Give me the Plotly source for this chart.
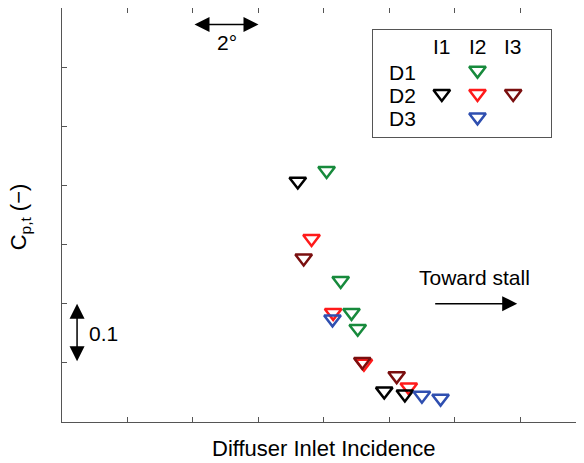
import plotly.graph_objects as go

# ---- data ----
designs = ["D1", "D2", "D3"]
incidences = ["I1", "I2", "I3"]

d1_i2_x = [8.08, 8.51, 8.84, 9.03]
d1_i2_y = [0.425, 0.239, 0.185, 0.158]

d2_i1_x = [7.20, 9.84, 10.47]
d2_i1_y = [0.407, 0.052, 0.047]

d2_i2_x = [7.62, 8.28, 9.22, 10.59]
d2_i2_y = [0.310, 0.185, 0.099, 0.059]

d2_i3_x = [7.38, 9.17, 10.22]
d2_i3_y = [0.277, 0.102, 0.078]

d3_i2_x = [8.26, 10.99, 11.56]
d3_i2_y = [0.174, 0.045, 0.040]

x_ticks = [0, 2, 4, 6, 8, 10, 12, 14, 16]
y_ticks = [0, 0.1, 0.2, 0.3, 0.4, 0.5, 0.6, 0.7]

# drawing order: red, dark red, green, black, blue
series = [
    ("D2", "I2", "#ff1a1a", d2_i2_x, d2_i2_y),
    ("D2", "I3", "#7a0f0f", d2_i3_x, d2_i3_y),
    ("D1", "I2", "#178a3c", d1_i2_x, d1_i2_y),
    ("D2", "I1", "#000000", d2_i1_x, d2_i1_y),
    ("D3", "I2", "#2f4fb0", d3_i2_x, d3_i2_y),
]

FONT = "Liberation Sans, Arial, Helvetica, sans-serif"
AX = "#555555"
MS = 14.5
LW = 2.5

fig = go.Figure()
for d, i, c, xs, ys in series:
    fig.add_trace(go.Scatter(
        x=xs, y=ys, mode="markers", showlegend=False,
        marker=dict(symbol="triangle-down-open", size=MS, color=c,
                    line=dict(width=LW, color=c)),
        cliponaxis=False))
    # legend grid entry (column = incidence, row = design)
    fig.add_trace(go.Scatter(
        x=[incidences.index(i) + 1], y=[designs.index(d) + 1],
        xaxis="x2", yaxis="y2", mode="markers", showlegend=False,
        marker=dict(symbol="triangle-down-open", size=MS, color=c,
                    line=dict(width=LW, color=c))))

axis_common = dict(showgrid=False, zeroline=False, ticks="inside", ticklen=5,
                   tickcolor=AX, tickwidth=1, showticklabels=False)

fig.update_layout(
    width=576, height=455,
    margin=dict(l=54, r=0, t=0, b=41),
    paper_bgcolor="white", plot_bgcolor="white",
    font=dict(family=FONT, size=21, color="black"),
    xaxis=dict(range=[0, 15.94], tickvals=x_ticks, showline=True,
               linecolor=AX, linewidth=1.3, **axis_common),
    yaxis=dict(range=[0, 0.7], tickvals=y_ticks, showline=True,
               linecolor=AX, linewidth=1.3, **axis_common),
    xaxis3=dict(range=[0, 15.94], tickvals=x_ticks, overlaying="x",
                side="top", anchor="y", showline=True, linecolor=AX,
                linewidth=1.3, **axis_common),
    yaxis3=dict(range=[0, 0.7], tickvals=y_ticks, overlaying="y",
                side="right", anchor="x", showline=False, **axis_common),
    xaxis2=dict(domain=[0.596, 0.937], anchor="y2", range=[-0.924, 4.062],
                showgrid=False, zeroline=False, showticklabels=False,
                ticks="", showline=True, mirror=True, linecolor=AX,
                linewidth=1.3),
    yaxis2=dict(domain=[0.688, 0.947], anchor="x2", range=[3.86, -0.73],
                showgrid=False, zeroline=False, showticklabels=False,
                ticks="", showline=True, mirror=True, linecolor=AX,
                linewidth=1.3),
)

# dummy trace so the mirrored axes are drawn
fig.add_trace(go.Scatter(x=[], y=[], xaxis="x3", yaxis="y3", showlegend=False))

ann = []
# legend headers
for k, lab in enumerate(incidences):
    ann.append(dict(x=k + 1, y=0, xref="x2", yref="y2", text=lab,
                    showarrow=False, xanchor="center", yanchor="middle"))
for k, lab in enumerate(designs):
    ann.append(dict(x=-0.54, y=k + 1.08, xref="x2", yref="y2", text=lab,
                    showarrow=False, xanchor="left", yanchor="middle"))

# 2 degree arrow
ann.append(dict(x=6, y=0.672, ax=4, ay=0.672, xref="x", yref="y",
                axref="x", ayref="y", text="", showarrow=True,
                arrowside="end+start", arrowhead=2, arrowsize=2,
                arrowwidth=1.5, arrowcolor="black"))
ann.append(dict(x=5.05, y=0.641, xref="x", yref="y", text="2°",
                showarrow=False, xanchor="center", yanchor="middle"))
# 0.1 arrow
ann.append(dict(x=0.46, y=0.2, ax=0.46, ay=0.1, xref="x", yref="y",
                axref="x", ayref="y", text="", showarrow=True,
                arrowside="end+start", arrowhead=2, arrowsize=2,
                arrowwidth=1.5, arrowcolor="black"))
ann.append(dict(x=0.76, y=0.149, xref="x", yref="y", text="0.1",
                showarrow=False, xanchor="left", yanchor="middle"))
# toward stall
ann.append(dict(x=13.9, y=0.2, ax=11.35, ay=0.2, xref="x", yref="y",
                axref="x", ayref="y", text="", showarrow=True,
                arrowhead=2, arrowsize=2, arrowwidth=1.5,
                arrowcolor="black"))
ann.append(dict(x=12.6, y=0.244, xref="x", yref="y", text="Toward stall",
                showarrow=False, xanchor="center", yanchor="middle"))
# axis titles
ann.append(dict(x=0.5, y=-0.065, xref="paper", yref="paper",
                text="Diffuser Inlet Incidence", showarrow=False,
                xanchor="center", yanchor="middle", font=dict(size=22)))
ann.append(dict(x=-0.08, y=0.495, xref="paper", yref="paper",
                text="C<sub>p,t</sub> (\u2212)", textangle=-90,
                showarrow=False, xanchor="center", yanchor="middle",
                font=dict(size=22)))

fig.update_layout(annotations=ann)
fig.write_html("out.html")
